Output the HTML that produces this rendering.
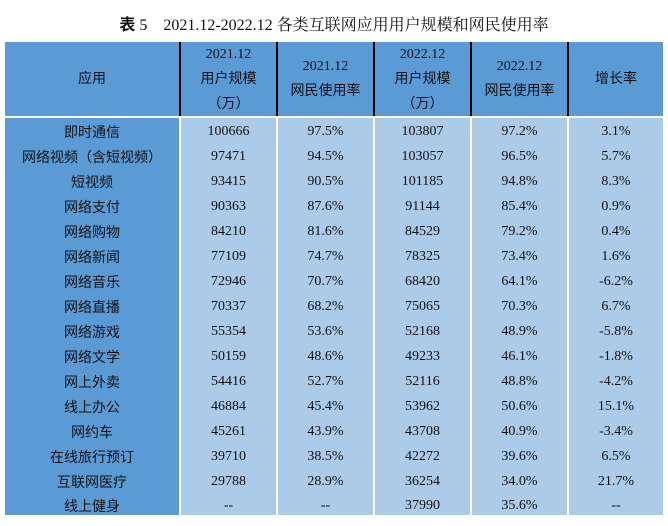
<!DOCTYPE html>
<html><head><meta charset="utf-8"><style>
body{margin:0;width:668px;height:526px;background:#fff;position:relative;overflow:hidden;font-family:"Liberation Serif","Noto Sans CJK SC",serif;color:#111}
.t{position:absolute;top:11px;left:0;width:668px;text-align:center;font-size:16px}
.c{position:absolute;display:flex;align-items:center;justify-content:center;text-align:center;font-size:14px;line-height:24px;box-sizing:border-box}
.h{background:#5b9bd5;font-family:"Liberation Serif","Noto Sans CJK SC",serif}
.b{background:#accbe9}
.f{background:#5b9bd5}
.zh{font-family:"Liberation Sans","Noto Sans CJK SC",sans-serif}
</style></head><body>
<div class="t"><b class="zh">表</b> 5&nbsp;&nbsp;&nbsp; 2021.12-2022.12 <span style="font-family:'Noto Serif CJK SC',serif">各类互联网应用用户规模和网民使用率</span></div>
<div id="tbl"></div>
<script>
const xs=[5,179,276,373,470,567,663];
const headers=["应用","2021.12<br>用户规模<br>（万）","2021.12<br>网民使用率","2022.12<br>用户规模<br>（万）","2022.12<br>网民使用率","增长率"];
const apps=["即时通信","网络视频（含短视频）","短视频","网络支付","网络购物","网络新闻","网络音乐","网络直播","网络游戏","网络文学","网上外卖","线上办公","网约车","在线旅行预订","互联网医疗","线上健身"];
const users2021=["100666","97471","93415","90363","84210","77109","72946","70337","55354","50159","54416","46884","45261","39710","29788","--"];
const rate2021=["97.5%","94.5%","90.5%","87.6%","81.6%","74.7%","70.7%","68.2%","53.6%","48.6%","52.7%","45.4%","43.9%","38.5%","28.9%","--"];
const users2022=["103807","103057","101185","91144","84529","78325","68420","75065","52168","49233","52116","53962","43708","42272","36254","37990"];
const rate2022=["97.2%","96.5%","94.8%","85.4%","79.2%","73.4%","64.1%","70.3%","48.9%","46.1%","48.8%","50.6%","40.9%","39.6%","34.0%","35.6%"];
const growth=["3.1%","5.7%","8.3%","0.9%","0.4%","1.6%","-6.2%","6.7%","-5.8%","-1.8%","-4.2%","15.1%","-3.4%","6.5%","21.7%","--"];
const cols=[apps,users2021,rate2021,users2022,rate2022,growth];
const names=["app","users-2021","rate-2021","users-2022","rate-2022","growth"];
const T=document.getElementById('tbl');
const hTop=42,hBot=116,rowH=25;
for(let i=0;i<6;i++){
  const d=document.createElement('div');
  d.className='c h';
  
  
  d.style.left=xs[i]+'px';d.style.width=(xs[i+1]-xs[i])+'px';
  d.style.top=hTop+'px';d.style.height=(hBot-hTop)+'px';
  if(i>0)d.style.borderLeft='2px solid #000';
  d.style.lineHeight='25px';
  d.innerHTML=headers[i];
  T.appendChild(d);
}
for(let r=0;r<apps.length;r++){
  for(let i=0;i<6;i++){
    const d=document.createElement('div');
    d.className='c '+(i==0?'f zh':'b');
    
    
    d.style.left=xs[i]+'px';d.style.width=(xs[i+1]-xs[i])+'px';
    d.style.top=(hBot+2+r*rowH)+'px';d.style.height=(r==apps.length-1?22:rowH)+'px';
    d.style.paddingTop='3px';
    if(i>0)d.style.borderLeft='2px solid #fff';
    d.textContent=cols[i][r];
    T.appendChild(d);
  }
}
</script>
</body></html>
